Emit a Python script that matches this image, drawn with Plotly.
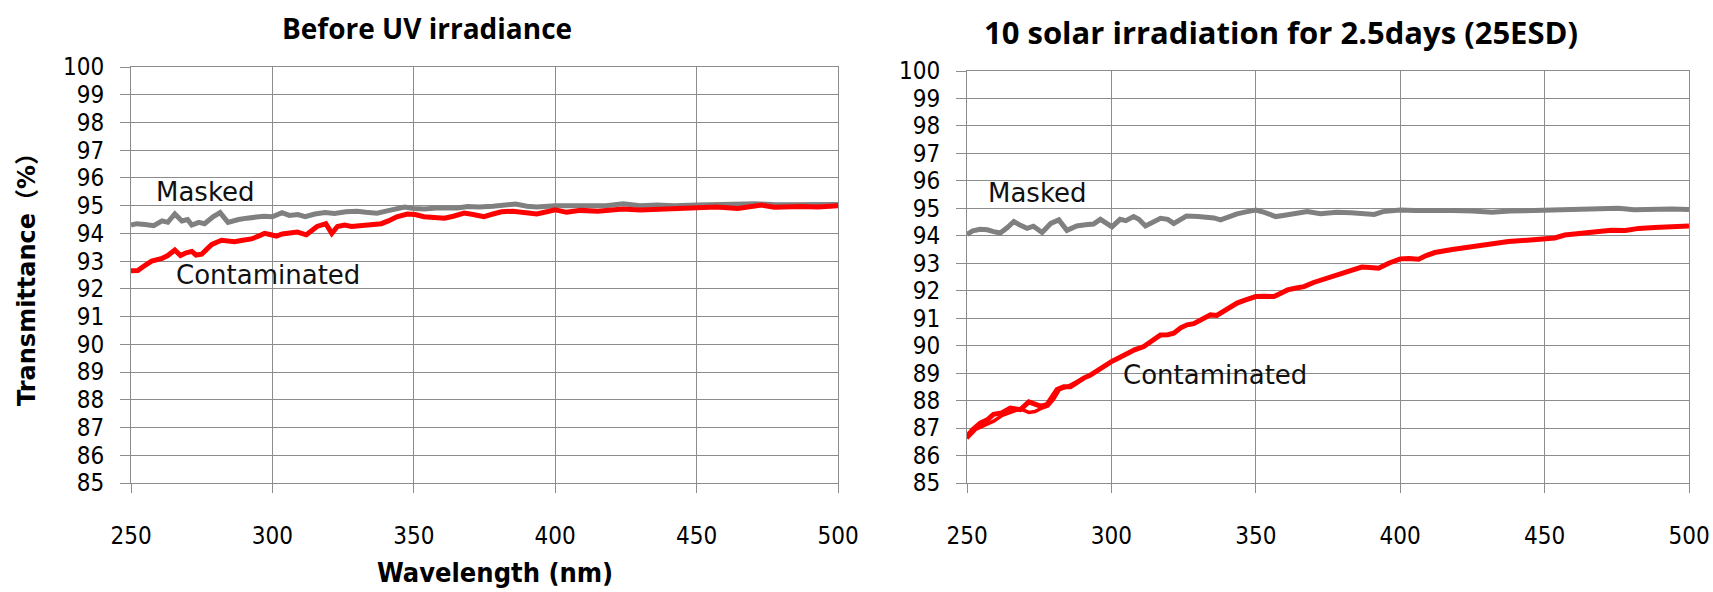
import plotly.graph_objects as go

# ---------------- data ----------------
# Left panel: before UV irradiance
left_masked_wl = [250, 252, 255, 258, 261, 263, 265.5, 268, 270, 271.5, 274, 276, 279, 281.5, 284.3, 286, 288,
                  291, 294, 297, 300, 303.4, 306, 309, 311.6, 315, 318.6, 322, 326, 330, 333, 337, 341, 346.8,
                  350, 353.8, 358, 362, 365.5, 369, 373, 378, 382, 386, 390, 393.5, 400, 406, 412, 418, 424,
                  430, 436, 442, 450, 457, 464, 471, 478, 486, 493, 500]
left_masked_T = [94.3, 94.35, 94.32, 94.28, 94.45, 94.4, 94.7, 94.45, 94.5, 94.3, 94.4, 94.35, 94.6, 94.75, 94.4,
                 94.45, 94.5, 94.55, 94.6, 94.62, 94.6, 94.75, 94.65, 94.68, 94.6, 94.7, 94.75, 94.72, 94.78, 94.8,
                 94.76, 94.73, 94.82, 94.95, 94.9, 94.88, 94.92, 94.9, 94.92, 94.97, 94.95, 94.98, 95.0, 95.06,
                 94.98, 94.95, 95.0, 95.0, 95.02, 95.0, 95.07, 95.0, 95.02, 95.0, 95.02, 95.03, 95.02, 95.07,
                 95.03, 95.05, 95.04, 95.04]

left_contam_wl = [250, 252.4, 255, 257.3, 261, 263, 265.5, 267.5, 269.5, 271.5, 273, 275, 277, 278.6, 282, 284,
                  286.6, 289.5, 292.6, 295, 297.2, 299.5, 301.4, 303.5, 305.3, 308.8, 312, 314, 315.8, 318.9,
                  321, 323, 325.5, 328, 332.5, 335, 338.5, 341, 344, 347.7, 350.5, 353.6, 357, 360.8, 364,
                  367.8, 371, 374.8, 378, 381, 385, 389, 393.5, 397, 400, 404, 409, 415, 420, 424, 430, 435,
                  440, 445, 450, 457, 464.6, 469, 473, 477.5, 482, 487, 492.9, 496, 500]
left_contam_T = [92.65, 92.66, 92.85, 93.0, 93.1, 93.2, 93.4, 93.2, 93.3, 93.35, 93.22, 93.25, 93.45, 93.6, 93.75,
                 93.72, 93.7, 93.75, 93.8, 93.9, 94.0, 93.95, 93.9, 93.98, 94.0, 94.05, 93.95, 94.1, 94.25, 94.35,
                 94.0, 94.25, 94.3, 94.25, 94.3, 94.32, 94.35, 94.45, 94.6, 94.7, 94.68, 94.6, 94.58, 94.55,
                 94.62, 94.73, 94.68, 94.6, 94.7, 94.78, 94.8, 94.74, 94.7, 94.78, 94.85, 94.76, 94.83, 94.8,
                 94.84, 94.88, 94.84, 94.86, 94.88, 94.9, 94.92, 94.95, 94.9, 94.96, 95.02, 94.94, 94.96, 94.97,
                 94.95, 94.98, 95.0]

# Right panel: 10 solar irradiation for 2.5 days (25ESD)
right_masked_wl = [250, 252, 254.6, 257, 259.2, 261.5, 264, 266.2, 268.5, 270.8, 273, 276, 279, 281.8, 284.6,
                   288, 291, 293.8, 296.2, 298, 300.2, 303, 305, 307.7, 309.5, 311.8, 314, 317, 319.5, 321.6,
                   324, 326, 330, 333, 335.5, 337.8, 340.5, 343.5, 347, 350, 353, 356.9, 360, 363, 367.8,
                   372.4, 378, 383, 388, 391, 394, 400, 405, 411, 418, 425, 431.8, 438, 444, 450, 456, 462,
                   468, 475.6, 481, 487, 494, 500]
right_masked_T = [94.05, 94.18, 94.24, 94.22, 94.15, 94.1, 94.3, 94.52, 94.38, 94.27, 94.35, 94.12, 94.45, 94.58,
                  94.2, 94.36, 94.4, 94.43, 94.6, 94.5, 94.33, 94.6, 94.55, 94.7, 94.6, 94.36, 94.5, 94.64, 94.6,
                  94.45, 94.6, 94.72, 94.7, 94.67, 94.65, 94.58, 94.7, 94.8, 94.88, 94.94, 94.85, 94.7, 94.75,
                  94.8, 94.88, 94.8, 94.86, 94.84, 94.82, 94.78, 94.88, 94.94, 94.92, 94.9, 94.92, 94.9, 94.86,
                  94.9, 94.92, 94.92, 94.94, 94.96, 94.97, 95.0, 94.95, 94.97, 94.98, 94.96]

right_contam_wl = [250, 252, 254.6, 257, 259.2, 262, 265, 268.5, 271.4, 273.5, 275.4, 277.7, 279.5, 281.2, 283.5,
                   285.8, 288, 290.4, 292.6, 295, 297.5, 300, 302.5, 305.4, 308, 311.2, 314, 317, 319.5, 321.6,
                   324, 326.2, 328.5, 330.8, 334.3, 336.5, 338.9, 341, 343.5, 346.5, 350, 353, 356.3, 358.5,
                   361, 364, 366.7, 370, 372.5, 376, 378.3, 382, 386.7, 389.5, 392.5, 396, 400, 403, 406.4,
                   409, 412, 418, 424.8, 431, 437.5, 444, 450.2, 453.5, 457, 463, 468.7, 473, 478, 482.6, 488,
                   494, 500]
right_contam_T = [86.7, 86.95, 87.18, 87.3, 87.5, 87.55, 87.73, 87.67, 87.95, 87.85, 87.8, 87.85, 88.1, 88.4, 88.5,
                  88.5, 88.65, 88.82, 88.92, 89.1, 89.25, 89.42, 89.55, 89.73, 89.85, 89.97, 90.2, 90.39, 90.4,
                  90.45, 90.65, 90.76, 90.8, 90.94, 91.12, 91.1, 91.24, 91.4, 91.55, 91.67, 91.79, 91.8, 91.79,
                  91.9, 92.03, 92.1, 92.15, 92.3, 92.39, 92.52, 92.58, 92.7, 92.86, 92.85, 92.82, 93.0, 93.16,
                  93.17, 93.15, 93.28, 93.39, 93.5, 93.6, 93.7, 93.79, 93.84, 93.87, 93.92, 94.03, 94.1, 94.15,
                  94.2, 94.19, 94.27, 94.3, 94.33, 94.36]
# second scan of the contaminated sample (visible where the two scans separate)
right_contam2_wl = [250, 253, 256, 259.2, 262, 265.5, 268.5, 271.4, 273.5, 276, 278, 280, 282, 285, 290]
right_contam2_T = [86.62, 86.95, 87.1, 87.25, 87.45, 87.6, 87.7, 87.57, 87.6, 87.73, 87.8, 88.05, 88.4, 88.52, 88.8]

y_ticks = list(range(85, 101))
x_ticks = [250, 300, 350, 400, 450, 500]

titles = ["Before UV irradiance", "10 solar irradiation for 2.5days (25ESD)"]
x_title = "Wavelength (nm)"
y_title = "Transmittance（%）"

# ---------------- figure ----------------
W, H = 1713, 592
GRAY = "#808080"
RED = "#ff0000"
GRID = "#8c8c8c"
NARROW = "DejaVu Sans Condensed, Liberation Sans Narrow, sans-serif"
TICKFONT = dict(family=NARROW, size=24, color="#000")

fig = go.Figure()
line_w = 5
fig.add_trace(go.Scatter(x=left_masked_wl, y=left_masked_T, mode="lines", line=dict(color=GRAY, width=line_w),
                         xaxis="x", yaxis="y", showlegend=False))
fig.add_trace(go.Scatter(x=left_contam_wl, y=left_contam_T, mode="lines", line=dict(color=RED, width=line_w),
                         xaxis="x", yaxis="y", showlegend=False))
fig.add_trace(go.Scatter(x=right_masked_wl, y=right_masked_T, mode="lines", line=dict(color=GRAY, width=line_w),
                         xaxis="x2", yaxis="y2", showlegend=False))
fig.add_trace(go.Scatter(x=right_contam_wl, y=right_contam_T, mode="lines", line=dict(color=RED, width=line_w),
                         xaxis="x2", yaxis="y2", showlegend=False))
fig.add_trace(go.Scatter(x=right_contam2_wl, y=right_contam2_T, mode="lines", line=dict(color=RED, width=3.5),
                         xaxis="x2", yaxis="y2", showlegend=False))


def px_x(p):
    return p / W


def px_y(p):
    return 1 - p / H


xa = dict(range=[250, 500], tickvals=x_ticks, ticks="outside", ticklen=9, tickcolor=GRID, tickwidth=1,
          showgrid=True, gridcolor=GRID, gridwidth=1, showline=True, linecolor=GRID, linewidth=1, mirror=True,
          tickfont=TICKFONT, ticklabelstandoff=22, zeroline=False, fixedrange=True,
          automargin=False)
ya = dict(range=[85, 100], tickvals=y_ticks, ticks="outside", ticklen=10, tickcolor=GRID, tickwidth=1,
          showgrid=True, gridcolor=GRID, gridwidth=1, showline=True, linecolor=GRID, linewidth=1, mirror=True,
          tickfont=TICKFONT, ticklabelstandoff=11, zeroline=False, fixedrange=True, automargin=False)

fig.update_layout(
    width=W, height=H, margin=dict(l=0, r=0, t=0, b=0, autoexpand=False),
    paper_bgcolor="white", plot_bgcolor="white",
    xaxis=dict(xa, domain=[px_x(131), px_x(838)], anchor="y"),
    yaxis=dict(ya, domain=[px_y(483), px_y(67)], anchor="x"),
    xaxis2=dict(xa, domain=[px_x(967), px_x(1689)], anchor="y2"),
    yaxis2=dict(ya, domain=[px_y(483), px_y(71)], anchor="x2"),
)

ann_font = dict(family="DejaVu Sans, sans-serif", size=26, color="#111")
title_font = dict(family="Open Sans, sans-serif", color="#000")
annotations = [
    dict(text="<b>" + titles[0] + "</b>", x=px_x(427), y=px_y(28), xref="paper", yref="paper",
         showarrow=False, font=dict(title_font, size=28), xanchor="center", yanchor="middle"),
    dict(text="<b>" + titles[1] + "</b>", x=px_x(1281), y=px_y(32), xref="paper", yref="paper",
         showarrow=False, font=dict(title_font, size=31), xanchor="center", yanchor="middle"),
    dict(text="<b>" + x_title + "</b>", x=px_x(495), y=px_y(572), xref="paper", yref="paper",
         showarrow=False, font=dict(family=NARROW, size=27, color="#000"), xanchor="center", yanchor="middle"),
    dict(text="<b>" + y_title + "</b>", x=px_x(27), y=px_y(274), xref="paper", yref="paper", textangle=-90,
         showarrow=False, font=dict(family="DejaVu Sans, Noto Sans CJK JP, sans-serif", size=24, color="#000"),
         xanchor="center", yanchor="middle"),
    dict(text="Masked", x=px_x(154), y=px_y(192), xref="paper", yref="paper", showarrow=False,
         font=ann_font, xanchor="left", yanchor="middle"),
    dict(text="Contaminated", x=px_x(174), y=px_y(275), xref="paper", yref="paper", showarrow=False,
         font=ann_font, xanchor="left", yanchor="middle"),
    dict(text="Masked", x=px_x(986), y=px_y(193), xref="paper", yref="paper", showarrow=False,
         font=ann_font, xanchor="left", yanchor="middle"),
    dict(text="Contaminated", x=px_x(1121), y=px_y(375), xref="paper", yref="paper", showarrow=False,
         font=ann_font, xanchor="left", yanchor="middle"),
]
fig.update_layout(annotations=annotations)

fig.write_html("out.html")
